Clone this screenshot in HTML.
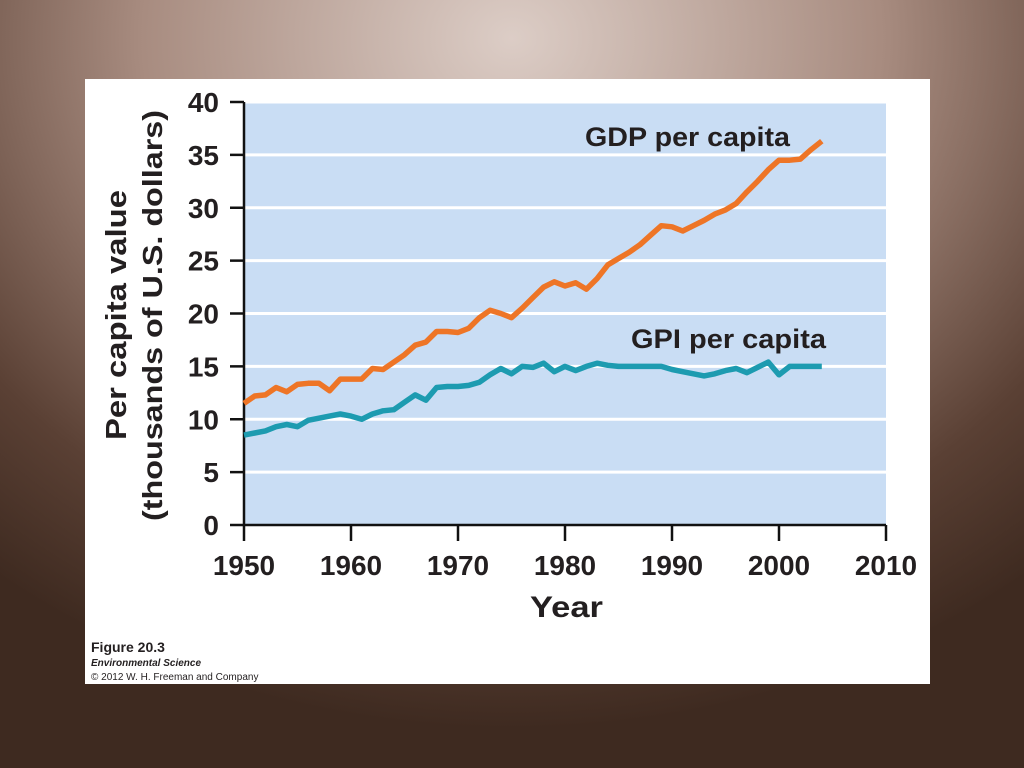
<!DOCTYPE html>
<html><head><meta charset="utf-8"><style>
html,body{margin:0;padding:0;width:1024px;height:768px;overflow:hidden;}
body{background:radial-gradient(ellipse 80% 90% at 50% 5%,#dccdc6 0%,#a88c80 45%,#5a4034 80%,#3e2a20 100%);font-family:"Liberation Sans",sans-serif;}
#card{position:absolute;left:85px;top:79px;width:845px;height:605px;background:#fff;}
svg text{font-family:"Liberation Sans",sans-serif;font-weight:bold;fill:#231f20;}
svg text.normal{font-weight:normal;}
</style></head><body>
<div id="card"></div>
<svg id="chart" width="1024" height="768" style="position:absolute;left:0;top:0"></svg>
<script>
const years=[1950,1951,1952,1953,1954,1955,1956,1957,1958,1959,1960,1961,1962,1963,1964,1965,1966,1967,1968,1969,1970,1971,1972,1973,1974,1975,1976,1977,1978,1979,1980,1981,1982,1983,1984,1985,1986,1987,1988,1989,1990,1991,1992,1993,1994,1995,1996,1997,1998,1999,2000,2001,2002,2003,2004];
const gdp=[11.5,12.2,12.3,13.0,12.6,13.3,13.4,13.4,12.7,13.8,13.8,13.8,14.8,14.7,15.4,16.1,17.0,17.3,18.3,18.3,18.2,18.6,19.6,20.3,20.0,19.6,20.5,21.5,22.5,23.0,22.6,22.9,22.3,23.3,24.6,25.2,25.8,26.5,27.4,28.3,28.2,27.8,28.3,28.8,29.4,29.8,30.4,31.5,32.5,33.6,34.5,34.5,34.6,35.5,36.3];
const gpi=[8.5,8.7,8.9,9.3,9.5,9.3,9.9,10.1,10.3,10.5,10.3,10.0,10.5,10.8,10.9,11.6,12.3,11.8,13.0,13.1,13.1,13.2,13.5,14.2,14.8,14.3,15.0,14.9,15.3,14.5,15.0,14.6,15.0,15.3,15.1,15.0,15.0,15.0,15.0,15.0,14.7,14.5,14.3,14.1,14.3,14.6,14.8,14.4,14.9,15.4,14.2,15.0,15.0,15.0,15.0];
const yTicks=[0,5,10,15,20,25,30,35,40];
const xTicks=[1950,1960,1970,1980,1990,2000,2010];
const NS="http://www.w3.org/2000/svg";
const svg=document.getElementById('chart');
const X=y=>244+(y-1950)*(886-244)/60;
const Y=v=>525-v*(525-102)/40;
function mk(t,a,p){const e=document.createElementNS(NS,t);for(const k in a)e.setAttribute(k,a[k]);(p||svg).appendChild(e);return e;}
let bg=mk('rect',{x:244,y:102,width:642,height:423,fill:'#c9ddf4'});


yTicks.forEach(v=>{
  if(v>0){let g=mk('line',{x1:244,x2:886,y1:Y(v),y2:Y(v),stroke:'#fff','stroke-width':3});
  
  }
  let t=mk('line',{x1:230,x2:244,y1:Y(v),y2:Y(v),stroke:'#111','stroke-width':2.5});
  
  
  let l=mk('text',{x:219,y:Y(v)+10,'text-anchor':'end','font-size':28});
  l.textContent=v;
  
  
});
xTicks.forEach(y=>{
  let t=mk('line',{x1:X(y),x2:X(y),y1:525,y2:541,stroke:'#111','stroke-width':2.5});
  
  
  let l=mk('text',{x:X(y),y:575,'text-anchor':'middle','font-size':28});
  l.textContent=y;
  
  
});
let ax=mk('path',{d:'M244 102 V525 H886',fill:'none',stroke:'#111','stroke-width':2.5});


function line(vals,color,name){
  let d=vals.map((v,i)=>(i?'L':'M')+X(years[i]).toFixed(1)+' '+Y(v).toFixed(1)).join(' ');
  let p=mk('path',{d:d,fill:'none',stroke:color,'stroke-width':5.5,'stroke-linejoin':'round'});
  
  
}
line(gpi,'#1d9bb0','gpi-line');
line(gdp,'#ee7526','gdp-line');
let t1=mk('text',{x:585,y:146,'font-size':27,textLength:205,lengthAdjust:'spacingAndGlyphs'});t1.textContent='GDP per capita';


let t2=mk('text',{x:631,y:348,'font-size':27,textLength:195,lengthAdjust:'spacingAndGlyphs'});t2.textContent='GPI per capita';


let xt=mk('text',{x:530,y:617,'font-size':30,textLength:73,lengthAdjust:'spacingAndGlyphs'});xt.textContent='Year';


let yt=mk('text',{transform:'translate(126,440) rotate(-90)','font-size':29,textLength:250,lengthAdjust:'spacingAndGlyphs'});yt.textContent='Per capita value';


let yt2=mk('text',{transform:'translate(162,521) rotate(-90)','font-size':28,textLength:411,lengthAdjust:'spacingAndGlyphs'});yt2.textContent='(thousands of U.S. dollars)';


let f1=mk('text',{x:91,y:652,'font-size':14});f1.textContent='Figure 20.3';


let f2=mk('text',{x:91,y:666,'font-size':10,'font-style':'italic'});f2.textContent='Environmental Science';


let f3=mk('text',{x:91,y:680,'font-size':10,'class':'normal'});f3.textContent='© 2012 W. H. Freeman and Company';


</script>
</body></html>
